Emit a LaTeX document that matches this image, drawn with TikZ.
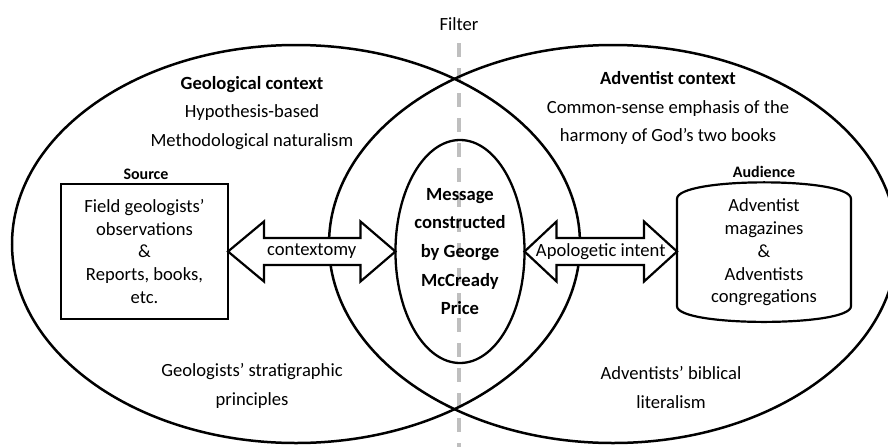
\documentclass[tikz,border=0pt]{standalone}
\usepackage{fontspec}
\setmainfont{Carlito}
\usetikzlibrary{calc,shapes.geometric}
\begin{document}
\begin{tikzpicture}[x=1pt,y=-1pt,
  every node/.style={inner sep=0pt, outer sep=0pt},
  body/.style={font=\fontsize{18.6}{28.5}\selectfont, align=center},
  tight/.style={font=\fontsize{18.6}{22.8}\selectfont, align=center},
  tag/.style={font=\fontsize{16}{19}\selectfont\bfseries},
  context/.style={draw, ellipse, line width=2.5pt, minimum width=568pt, minimum height=398pt},
  message/.style={draw, ellipse, line width=2.3pt, minimum width=110pt, minimum height=223pt,
    font=\fontsize{18.6}{28.6}\selectfont\bfseries, align=center},
  sourcebox/.style={draw, line width=1.8pt, minimum width=167pt, minimum height=135pt},
  fatarrow/.style={draw, fill=white, line width=2.2pt, line join=miter},
  filterline/.style={draw=black!25, line width=3.5pt, dash pattern=on 14pt off 11pt}
]
\useasboundingbox[fill=white] (0,0) rectangle (888,447);

% the filter between the two contexts
\node[body] (filter) at (459,24) {Filter};
\coordinate (ftop) at (459,43);
\coordinate (fbot) at (459,447);
\draw[filterline] (ftop) -- (fbot);

% the two contexts and the message between them
\node[context] (geo) at (296,244) {};
\node[context] (adv) at (613,244) {};
\node[message] (msg) at (460,251.5) {Message\\constructed\\by George\\McCready\\Price};

\node[body] (geotitle) at (252,113) {{\bfseries Geological context}\\Hypothesis-based\\Methodological naturalism};
\node[body] (advtitle) at (668,108) {{\bfseries Adventist context}\\Common-sense emphasis of the\\harmony of God’s two books};
\node[body] (geobase) at (252,386) {Geologists’ stratigraphic\\principles};
\node[body] (advbase) at (671,387.5) {Adventists’ biblical\\literalism};

% source
\node[sourcebox, tight] (src) at (144.5,251.5) {Field geologists’\\observations\\\&\\Reports, books,\\etc.};
\node[tag] (srctag) at (146,174) {Source};

% audience (drum shape)
\node[tight, minimum width=174pt, minimum height=101pt] (aud) at (764,252.5)
  {Adventist\\magazines\\\&\\Adventists\\congregations};
\draw[line width=2.2pt] (aud.north west) .. controls +(0pt,22pt) and +(0pt,22pt) .. (aud.north east)
  -- (aud.south east) .. controls +(0pt,-21pt) and +(0pt,-21pt) .. (aud.south west) -- cycle;
\node[tag] (audtag) at (764,172) {Audience};

% double arrows
\draw[fatarrow] let \p1=(src.east), \p2=(msg.west) in
  (\x1,\y2) -- (\x1+36pt,\y2+30pt) -- (\x1+36pt,\y2+13.5pt) -- (\x2-35pt,\y2+13.5pt)
  -- (\x2-35pt,\y2+30pt) -- (\x2,\y2) -- (\x2-35pt,\y2-30pt) -- (\x2-35pt,\y2-13.5pt)
  -- (\x1+36pt,\y2-13.5pt) -- (\x1+36pt,\y2-30pt) -- cycle;
\node[body] (ctxlabel) at ($(src.east)!0.5!(msg.west)$) {contextomy};

\draw[fatarrow] let \p1=(msg.east), \p2=(aud.west) in
  (\x1,\y1) -- (\x1+32pt,\y1+30pt) -- (\x1+32pt,\y1+13.5pt) -- (\x2-33pt,\y1+13.5pt)
  -- (\x2-33pt,\y1+30pt) -- (\x2,\y1) -- (\x2-33pt,\y1-30pt) -- (\x2-33pt,\y1-13.5pt)
  -- (\x1+32pt,\y1-13.5pt) -- (\x1+32pt,\y1-30pt) -- cycle;
\node[body] (apolabel) at ($(msg.east)!0.5!(aud.west)$) {Apologetic intent};
\end{tikzpicture}
\end{document}
